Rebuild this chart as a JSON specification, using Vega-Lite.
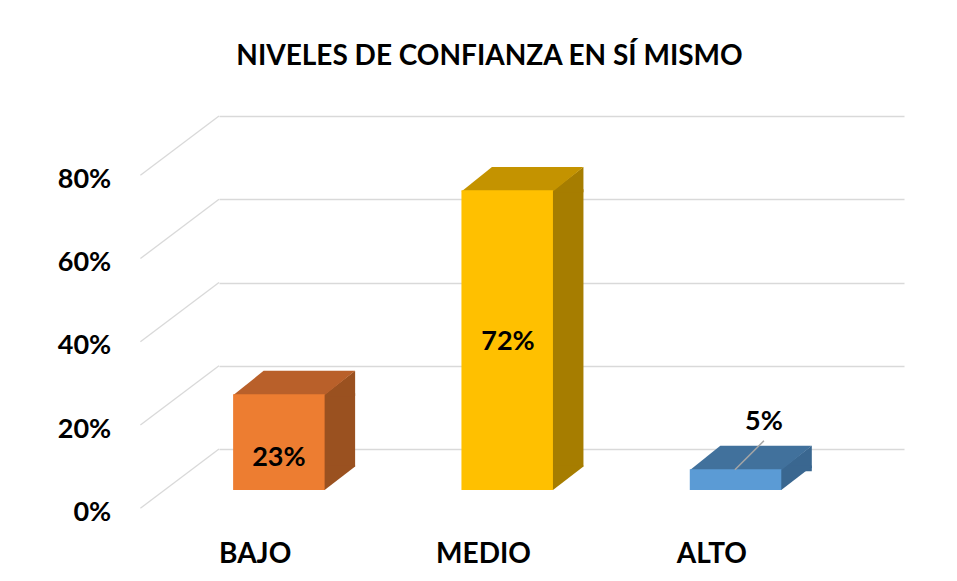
{
  "$schema": "https://vega.github.io/schema/vega-lite/v6.json",
  "autosize": "none",
  "padding": {"left": 219, "top": 116, "right": 53, "bottom": 132},
  "width": 685,
  "height": 333,
  "background": "white",
  "title": {
    "text": "NIVELES DE CONFIANZA EN SÍ MISMO",
    "anchor": "middle",
    "dx": -72,
    "baseline": "alphabetic",
    "offset": 22.5,
    "font": "Lato",
    "fontSize": 28,
    "fontWeight": "bold",
    "color": "#000000"
  },
  "datasets": {
    "niveles": [
      {"nivel": "BAJO", "pct": 0.23},
      {"nivel": "MEDIO", "pct": 0.72},
      {"nivel": "ALTO", "pct": 0.05}
    ],
    "ticks": [
      {"t": 0}, {"t": 0.2}, {"t": 0.4}, {"t": 0.6}, {"t": 0.8}
    ]
  },
  "resolve": {"scale": {"color": "independent"}},
  "layer": [
    {
      "data": {"name": "ticks"},
      "mark": {"type": "rule", "color": "#D9D9D9", "strokeWidth": 1.3, "x2Offset": -78.6, "y2Offset": 59.3},
      "encoding": {
        "x": {"datum": "BAJO", "bandPosition": 0, "type": "nominal", "scale": {"domain": ["BAJO", "MEDIO", "ALTO"], "paddingInner": 0, "paddingOuter": 0}, "title": null},
        "x2": {"datum": "BAJO", "bandPosition": 0},
        "y": {"field": "t", "type": "quantitative", "scale": {"domain": [0, 0.8], "nice": false}, "title": null,
              "axis": {"values": [0, 0.2, 0.4, 0.6, 0.8], "format": ".0%"}},
        "y2": {"field": "t"}
      }
    },
    {
      "data": {"name": "niveles"},
      "mark": {"type": "bar", "width": 31.5, "xOffset": 6.2, "yOffset": 40, "y2Offset": 17.6},
      "encoding": {
        "x": {"field": "nivel", "type": "nominal", "sort": ["BAJO", "MEDIO", "ALTO"], "title": null},
        "y": {"field": "pct", "type": "quantitative", "stack": null, "scale": {"domain": [0, 0.8], "nice": false}, "title": null},
        "y2": {"datum": 0},
        "color": {"field": "nivel", "type": "nominal", "legend": null,
                  "scale": {"domain": ["BAJO", "MEDIO", "ALTO"], "range": ["#9A5120", "#A67D00", "#3A6790"]}}
      }
    },
    {
      "data": {"name": "niveles"},
      "mark": {"type": "point", "filled": true, "opacity": 1, "strokeWidth": 0, "size": 930.25,
               "shape": "M-1.1,0.844L1,-0.767L1,0.9L-1.1,0.9Z", "xOffset": 6.7, "yOffset": 29.3},
      "encoding": {
        "x": {"field": "nivel", "type": "nominal", "sort": ["BAJO", "MEDIO", "ALTO"], "title": null},
        "y": {"field": "pct", "type": "quantitative", "stack": null, "scale": {"domain": [0, 0.8], "nice": false}, "title": null},
        "color": {"field": "nivel", "type": "nominal", "legend": null,
                  "scale": {"domain": ["BAJO", "MEDIO", "ALTO"], "range": ["#9A5120", "#A67D00", "#3A6790"]}}
      }
    },
    {
      "data": {"name": "niveles"},
      "mark": {"type": "point", "filled": true, "opacity": 1, "strokeWidth": 0, "size": 930.25,
               "shape": "M-1.1,-0.84L1,-0.84L1,-0.767L-1,0.767L-1.1,0.767Z", "xOffset": 6.7, "yOffset": 29.3},
      "encoding": {
        "x": {"field": "nivel", "type": "nominal", "sort": ["BAJO", "MEDIO", "ALTO"], "title": null},
        "y": {"datum": 0, "type": "quantitative", "scale": {"domain": [0, 0.8], "nice": false}, "title": null},
        "color": {"field": "nivel", "type": "nominal", "legend": null,
                  "scale": {"domain": ["BAJO", "MEDIO", "ALTO"], "range": ["#9A5120", "#A67D00", "#3A6790"]}}
      }
    },
    {
      "data": {"name": "niveles"},
      "mark": {"type": "point", "filled": true, "opacity": 1, "strokeWidth": 0, "size": 14884,
               "shape": "M-1,0.21L0.5,0.21L1,-0.1918L-0.5,-0.1918Z", "xOffset": -39.05, "yOffset": 29.3},
      "encoding": {
        "x": {"field": "nivel", "type": "nominal", "sort": ["BAJO", "MEDIO", "ALTO"], "title": null},
        "y": {"field": "pct", "type": "quantitative", "stack": null, "scale": {"domain": [0, 0.8], "nice": false}, "title": null},
        "color": {"field": "nivel", "type": "nominal", "legend": null,
                  "scale": {"domain": ["BAJO", "MEDIO", "ALTO"], "range": ["#B9602A", "#C49300", "#41719C"]}}
      }
    },
    {
      "data": {"name": "niveles"},
      "mark": {"type": "bar", "width": 91.5, "xOffset": -54.3, "yOffset": 41, "y2Offset": 41},
      "encoding": {
        "x": {"field": "nivel", "type": "nominal", "sort": ["BAJO", "MEDIO", "ALTO"], "title": null},
        "y": {"field": "pct", "type": "quantitative", "stack": null, "scale": {"domain": [0, 0.8], "nice": false}, "title": null},
        "y2": {"datum": 0},
        "color": {"field": "nivel", "type": "nominal", "legend": null,
                  "scale": {"domain": ["BAJO", "MEDIO", "ALTO"], "range": ["#ED7D31", "#FFC000", "#5B9BD5"]}}
      }
    },
    {
      "data": {"name": "niveles"},
      "transform": [{"filter": "datum.nivel == 'BAJO'"}],
      "mark": {"type": "text", "font": "Lato", "fontSize": 27, "fontWeight": "bold", "color": "#000000",
               "baseline": "middle", "align": "center", "xOffset": -54.3, "yOffset": 41, "dy": 1.6},
      "encoding": {
        "x": {"field": "nivel", "type": "nominal", "sort": ["BAJO", "MEDIO", "ALTO"], "title": null},
        "y": {"field": "pct", "type": "quantitative", "stack": "zero", "bandPosition": 0.35, "scale": {"domain": [0, 0.8], "nice": false}, "title": null},
        "text": {"field": "pct", "type": "quantitative", "format": ".0%"}
      }
    },
    {
      "data": {"name": "niveles"},
      "transform": [{"filter": "datum.nivel == 'MEDIO'"}],
      "mark": {"type": "text", "font": "Lato", "fontSize": 27, "fontWeight": "bold", "color": "#000000",
               "baseline": "middle", "align": "center", "xOffset": -53.5, "yOffset": 41, "dy": 1.6},
      "encoding": {
        "x": {"field": "nivel", "type": "nominal", "sort": ["BAJO", "MEDIO", "ALTO"], "title": null},
        "y": {"field": "pct", "type": "quantitative", "stack": "zero", "bandPosition": 0.5, "scale": {"domain": [0, 0.8], "nice": false}, "title": null},
        "text": {"field": "pct", "type": "quantitative", "format": ".0%"}
      }
    },
    {
      "data": {"name": "niveles"},
      "transform": [{"filter": "datum.nivel == 'ALTO'"}],
      "mark": {"type": "rule", "color": "#A6A6A6", "strokeWidth": 1.5,
               "xOffset": -54.9, "yOffset": 41.5, "x2Offset": -25.9, "y2Offset": 12.5},
      "encoding": {
        "x": {"field": "nivel", "type": "nominal", "sort": ["BAJO", "MEDIO", "ALTO"], "title": null},
        "x2": {"field": "nivel"},
        "y": {"field": "pct", "type": "quantitative", "stack": null, "scale": {"domain": [0, 0.8], "nice": false}, "title": null},
        "y2": {"field": "pct"}
      }
    },
    {
      "data": {"name": "niveles"},
      "transform": [{"filter": "datum.nivel == 'ALTO'"}],
      "mark": {"type": "text", "font": "Lato", "fontSize": 27, "fontWeight": "bold", "color": "#000000",
               "baseline": "middle", "align": "center", "xOffset": -25.9, "yOffset": -6.6},
      "encoding": {
        "x": {"field": "nivel", "type": "nominal", "sort": ["BAJO", "MEDIO", "ALTO"], "title": null},
        "y": {"field": "pct", "type": "quantitative", "stack": null, "scale": {"domain": [0, 0.8], "nice": false}, "title": null},
        "text": {"field": "pct", "type": "quantitative", "format": ".0%"}
      }
    }
  ],
  "config": {
    "view": {"stroke": null},
    "axisX": {
      "grid": false, "domain": false, "ticks": false, "tickSize": 0,
      "labelAngle": 0, "labelOffset": -78, "labelPadding": 113.9, "labelBaseline": "alphabetic",
      "labelFont": "Lato", "labelFontSize": 28, "labelFontWeight": "bold", "labelColor": "#000000"
    },
    "axisY": {
      "grid": true, "gridColor": "#D9D9D9", "gridWidth": 1.3,
      "domain": false, "ticks": false, "tickSize": 0,
      "labelOffset": 71.3, "labelPadding": 108.3, "labelBaseline": "alphabetic",
      "labelFont": "Lato", "labelFontSize": 27, "labelFontWeight": "bold", "labelColor": "#000000"
    }
  }
}
